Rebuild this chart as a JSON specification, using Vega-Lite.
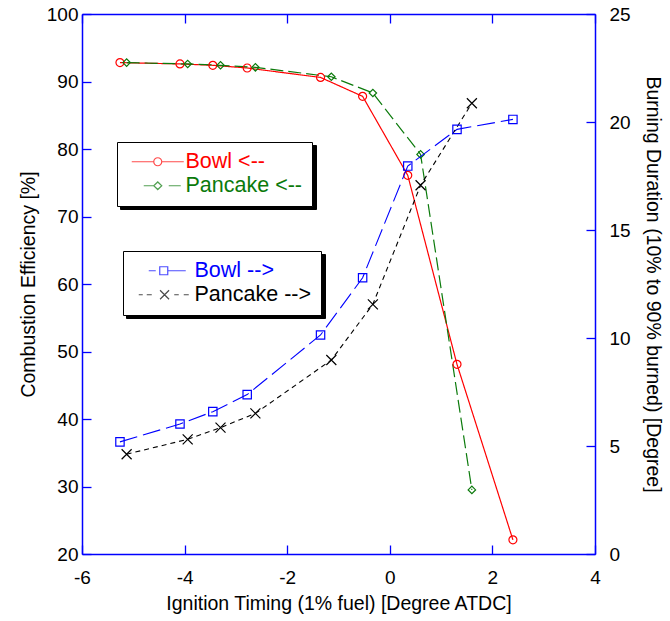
{
  "$schema": "https://vega.github.io/schema/vega-lite/v6.json",
  "width": 513,
  "height": 540,
  "autosize": "none",
  "padding": {"left": 82, "top": 14, "right": 75, "bottom": 67},
  "background": "white",
  "config": {
    "view": {"stroke": null},
    "font": "Liberation Sans",
    "axis": {
      "grid": false,
      "domainColor": "#0000ff",
      "domainWidth": 1.5,
      "tickColor": "#0000ff",
      "tickWidth": 1.3,
      "tickSize": -9,
      "labelFont": "Liberation Sans",
      "labelFontSize": 19,
      "labelColor": "#000000",
      "labelOverlap": false,
      "labelFlush": false,
      "titleFont": "Liberation Sans",
      "titleFontSize": 19.5,
      "titleFontWeight": "normal",
      "titleColor": "#000000"
    },
    "legend": {
      "orient": "none",
      "title": null,
      "padding": 9,
      "rowPadding": 1,
      "labelFont": "Liberation Sans",
      "labelFontSize": 21.5,
      "symbolSize": 4,
      "symbolStrokeWidth": 1.2,
      "strokeColor": "#000000"
    }
  },
  "datasets": {
    "left": [
      {"series": "Bowl <--", "x": -5.26, "eff": 92.8},
      {"series": "Bowl <--", "x": -4.09, "eff": 92.6},
      {"series": "Bowl <--", "x": -3.45, "eff": 92.4},
      {"series": "Bowl <--", "x": -2.78, "eff": 92.0},
      {"series": "Bowl <--", "x": -1.35, "eff": 90.6},
      {"series": "Bowl <--", "x": -0.53, "eff": 87.8},
      {"series": "Bowl <--", "x": 0.35, "eff": 76.1},
      {"series": "Bowl <--", "x": 1.31, "eff": 48.1},
      {"series": "Bowl <--", "x": 2.40, "eff": 22.1},
      {"series": "Pancake <--", "x": -5.13, "eff": 92.8},
      {"series": "Pancake <--", "x": -3.94, "eff": 92.6},
      {"series": "Pancake <--", "x": -3.30, "eff": 92.4},
      {"series": "Pancake <--", "x": -2.62, "eff": 92.1},
      {"series": "Pancake <--", "x": -1.14, "eff": 90.7},
      {"series": "Pancake <--", "x": -0.33, "eff": 88.3},
      {"series": "Pancake <--", "x": 0.60, "eff": 79.2},
      {"series": "Pancake <--", "x": 1.60, "eff": 29.5}
    ],
    "right": [
      {"series": "Bowl -->", "x": -5.26, "dur": 5.19},
      {"series": "Bowl -->", "x": -4.09, "dur": 6.02},
      {"series": "Bowl -->", "x": -3.45, "dur": 6.59},
      {"series": "Bowl -->", "x": -2.78, "dur": 7.38},
      {"series": "Bowl -->", "x": -1.35, "dur": 10.14},
      {"series": "Bowl -->", "x": -0.53, "dur": 12.79},
      {"series": "Bowl -->", "x": 0.35, "dur": 17.96},
      {"series": "Bowl -->", "x": 1.31, "dur": 19.66},
      {"series": "Bowl -->", "x": 2.40, "dur": 20.12},
      {"series": "Pancake -->", "x": -5.13, "dur": 4.62},
      {"series": "Pancake -->", "x": -3.94, "dur": 5.31},
      {"series": "Pancake -->", "x": -3.30, "dur": 5.85},
      {"series": "Pancake -->", "x": -2.62, "dur": 6.51},
      {"series": "Pancake -->", "x": -1.14, "dur": 8.98},
      {"series": "Pancake -->", "x": -0.33, "dur": 11.56},
      {"series": "Pancake -->", "x": 0.60, "dur": 17.07},
      {"series": "Pancake -->", "x": 1.60, "dur": 20.87}
    ]
  },
  "layer": [
    {
      "data": {"name": "left"},
      "encoding": {
        "x": {
          "field": "x", "type": "quantitative",
          "scale": {"domain": [-6, 4], "nice": false, "zero": false},
          "axis": {
            "orient": "bottom",
            "values": [-6, -4, -2, 0, 2, 4],
            "labelExpr": "'' + datum.value",
            "labelPadding": 23,
            "title": "Ignition Timing (1% fuel) [Degree ATDC]",
            "titlePadding": 7
          }
        },
        "y": {
          "field": "eff", "type": "quantitative",
          "scale": {"domain": [20, 100], "nice": false, "zero": false},
          "axis": {
            "orient": "left",
            "values": [20, 30, 40, 50, 60, 70, 80, 90, 100],
            "labelPadding": 13,
            "title": "Combustion Efficiency [%]",
            "titlePadding": 8
          }
        },
        "color": {
          "field": "series", "type": "nominal",
          "scale": {"domain": ["Bowl <--", "Pancake <--"], "range": ["#ff0000", "#0b7a0b"]},
          "legend": null
        }
      },
      "layer": [
        {
          "mark": {"type": "line", "strokeWidth": 1.2},
          "encoding": {
            "strokeDash": {
              "field": "series", "type": "nominal",
              "scale": {"domain": ["Bowl <--", "Pancake <--"], "range": [[1, 0], [13, 5]]},
              "legend": null
            }
          }
        },
        {
          "mark": {"type": "point", "filled": false, "strokeWidth": 1.2, "opacity": 1},
          "encoding": {
            "shape": {
              "field": "series", "type": "nominal",
              "scale": {"domain": ["Bowl <--", "Pancake <--"], "range": ["circle", "diamond"]},
              "legend": null
            },
            "size": {
              "field": "series", "type": "nominal",
              "scale": {"domain": ["Bowl <--", "Pancake <--"], "range": [64, 55]},
              "legend": null
            }
          }
        }
      ]
    },
    {
      "data": {"name": "right"},
      "encoding": {
        "x": {
          "field": "x", "type": "quantitative",
          "scale": {"domain": [-6, 4], "nice": false, "zero": false},
          "axis": {
            "orient": "top",
            "values": [-6, -4, -2, 0, 2, 4],
            "labels": false,
            "title": null
          }
        },
        "y": {
          "field": "dur", "type": "quantitative",
          "scale": {"domain": [0, 25], "nice": false, "zero": false},
          "axis": {
            "orient": "right",
            "values": [0, 5, 10, 15, 20, 25],
            "labelPadding": 23,
            "title": "Burning Duration (10% to 90% burned) [Degree]",
            "titlePadding": 12
          }
        },
        "color": {
          "field": "series", "type": "nominal",
          "scale": {"domain": ["Bowl -->", "Pancake -->"], "range": ["#0000ff", "#000000"]},
          "legend": null
        }
      },
      "layer": [
        {
          "mark": {"type": "line", "strokeWidth": 1.1},
          "encoding": {
            "strokeDash": {
              "field": "series", "type": "nominal",
              "scale": {"domain": ["Bowl -->", "Pancake -->"], "range": [[18, 6], [5, 4]]},
              "legend": null
            }
          }
        },
        {
          "mark": {"type": "point", "filled": false, "strokeWidth": 1.2, "opacity": 1},
          "encoding": {
            "shape": {
              "field": "series", "type": "nominal",
              "scale": {"domain": ["Bowl -->", "Pancake -->"], "range": ["square", "M-1,-1L1,1M-1,1L1,-1"]},
              "legend": null
            },
            "size": {
              "field": "series", "type": "nominal",
              "scale": {"domain": ["Bowl -->", "Pancake -->"], "range": [70, 100]},
              "legend": null
            }
          }
        }
      ]
    },
    {
      "data": {"name": "left"},
      "transform": [{"filter": "false"}],
      "mark": {"type": "point", "filled": false},
      "encoding": {
        "color": {
          "field": "series", "type": "nominal",
          "scale": {"domain": ["Bowl <--", "Pancake <--"], "range": ["#000000", "#000000"]},
          "legend": {
            "legendX": 38, "legendY": 131, "zindex": 0,
            "labelOffset": 17, "labelExpr": "''",
            "symbolOffset": 21, "symbolOpacity": 0,
            "symbolType": "M-26,-10.75H146V10.75H-26Z",
            "fillColor": "#000000"
          }
        }
      }
    },
    {
      "data": {"name": "right"},
      "transform": [{"filter": "false"}],
      "mark": {"type": "point", "filled": false},
      "encoding": {
        "color": {
          "field": "series", "type": "nominal",
          "scale": {"domain": ["Bowl -->", "Pancake -->"], "range": ["#000000", "#000000"]},
          "legend": {
            "legendX": 44, "legendY": 240, "zindex": 0,
            "labelOffset": 20, "labelExpr": "''",
            "symbolOffset": 21, "symbolOpacity": 0,
            "symbolType": "M-25,-10.75H149V10.75H-25Z",
            "fillColor": "#000000"
          }
        }
      }
    },
    {
      "data": {"name": "left"},
      "transform": [{"filter": "false"}],
      "mark": {"type": "point", "filled": false},
      "encoding": {
        "color": {
          "field": "series", "type": "nominal",
          "scale": {"domain": ["Bowl <--", "Pancake <--"], "range": ["#ff0000", "#0b7a0b"]},
          "legend": {
            "legendX": 35, "legendY": 128, "zindex": 1,
            "labelOffset": 17,
            "symbolOffset": 21,
            "symbolType": {"expr": "datum.value === 'Bowl <--' ? 'M-26,0H-4M4,0H26M4,0A4,4,0,1,1,-4,0A4,4,0,1,1,4,0' : 'M-14,0H-4M-4,0L0,-3.8L4,0L0,3.8ZM11,0H23'"},
            "labelColor": {"expr": "datum.value === 'Bowl <--' ? '#ff0000' : '#0b7a0b'"},
            "fillColor": "#ffffff"
          }
        }
      }
    },
    {
      "data": {"name": "right"},
      "transform": [{"filter": "false"}],
      "mark": {"type": "point", "filled": false},
      "encoding": {
        "color": {
          "field": "series", "type": "nominal",
          "scale": {"domain": ["Bowl -->", "Pancake -->"], "range": ["#0000ff", "#000000"]},
          "legend": {
            "legendX": 41, "legendY": 237, "zindex": 1,
            "labelOffset": 20,
            "symbolOffset": 21,
            "symbolType": {"expr": "datum.value === 'Bowl -->' ? 'M-15,0H-8M-4,-4H4V4H-4ZM4,0H22' : 'M-25,0H-21M-17,0H-12M-3.7,-4.5L5.3,4.5M-3.7,4.5L5.3,-4.5M10.5,0H15M20,0H25'"},
            "labelColor": {"expr": "datum.value === 'Bowl -->' ? '#0000ff' : '#000000'"},
            "fillColor": "#ffffff"
          }
        }
      }
    }
  ],
  "resolve": {
    "scale": {"y": "independent", "color": "independent", "shape": "independent", "strokeDash": "independent", "size": "independent"},
    "axis": {"x": "independent"},
    "legend": {"color": "independent"}
  }
}
